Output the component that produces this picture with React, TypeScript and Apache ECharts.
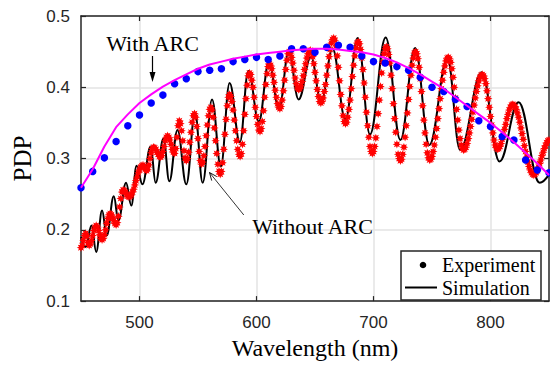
import React, { useEffect, useRef } from "react";
import * as echarts from "echarts";

// ---- axis ticks ----
const xTicks = [500, 600, 700, 800];
const yMin = 0.1;
const yMax = 0.5;
const yStep = 0.1;

// ---- With ARC (10 nm sampling) ----
const arcWavelengths = [
  450, 460, 470, 480, 490, 500, 510, 520, 530, 540, 550, 560, 570, 580, 590, 600, 610, 620, 630, 640, 650,
  660, 670, 680, 690, 700, 710, 720, 730, 740, 750, 760, 770, 780, 790, 800, 810, 820, 830, 840, 850,
];
const withArcExperiment = [
  0.259, 0.282, 0.301, 0.324, 0.346, 0.361, 0.378, 0.389, 0.405, 0.412, 0.422, 0.424, 0.426, 0.436, 0.439,
  0.442, 0.439, 0.444, 0.454, 0.454, 0.449, 0.456, 0.459, 0.456, 0.444, 0.436, 0.434, 0.429, 0.424, 0.414,
  0.4, 0.394, 0.383, 0.373, 0.353, 0.345, 0.331, 0.326, 0.298, 0.284, 0.28,
];
const withArcSimulation = [
  0.259, 0.285, 0.317, 0.344, 0.362, 0.378, 0.39, 0.401, 0.41, 0.418, 0.426, 0.432, 0.436, 0.44, 0.443,
  0.446, 0.448, 0.45, 0.452, 0.453, 0.454, 0.454, 0.453, 0.451, 0.449, 0.446, 0.441, 0.435, 0.427, 0.418,
  0.408, 0.398, 0.386, 0.374, 0.362, 0.35, 0.337, 0.323, 0.308, 0.293, 0.277,
];

// ---- Without ARC experiment (1 nm sampling from 450 nm) ----
const noArcStart = 450;
const noArcStep = 1;
const withoutArcExperiment = [
  0.175, 0.178, 0.185, 0.192, 0.195, 0.191, 0.182, 0.178, 0.18, 0.185,
  0.192, 0.199, 0.204, 0.206, 0.204, 0.199, 0.193, 0.188, 0.186, 0.188,
  0.193, 0.2, 0.209, 0.216, 0.221, 0.223, 0.221, 0.217, 0.213, 0.209,
  0.207, 0.21, 0.219, 0.232, 0.244, 0.253, 0.256, 0.255, 0.253, 0.249,
  0.247, 0.246, 0.247, 0.249, 0.253, 0.257, 0.263, 0.269, 0.274, 0.28,
  0.284, 0.288, 0.29, 0.291, 0.289, 0.285, 0.283, 0.285, 0.291, 0.3,
  0.308, 0.314, 0.316, 0.315, 0.313, 0.309, 0.306, 0.303, 0.302, 0.304,
  0.31, 0.317, 0.325, 0.33, 0.332, 0.33, 0.326, 0.32, 0.313, 0.309,
  0.307, 0.314, 0.33, 0.346, 0.353, 0.349, 0.339, 0.325, 0.311, 0.301,
  0.297, 0.3, 0.309, 0.323, 0.337, 0.351, 0.36, 0.363, 0.358, 0.345,
  0.328, 0.31, 0.297, 0.292, 0.295, 0.304, 0.317, 0.332, 0.347, 0.36,
  0.369, 0.372, 0.368, 0.358, 0.343, 0.325, 0.307, 0.292, 0.282, 0.278,
  0.282, 0.294, 0.313, 0.334, 0.355, 0.374, 0.386, 0.39, 0.387, 0.38,
  0.368, 0.354, 0.339, 0.325, 0.313, 0.306, 0.303, 0.307, 0.32, 0.339,
  0.362, 0.384, 0.403, 0.416, 0.42, 0.418, 0.41, 0.4, 0.386, 0.372,
  0.359, 0.348, 0.34, 0.338, 0.342, 0.352, 0.367, 0.386, 0.404, 0.419,
  0.429, 0.433, 0.431, 0.426, 0.417, 0.407, 0.396, 0.386, 0.377, 0.372,
  0.37, 0.373, 0.382, 0.395, 0.41, 0.425, 0.438, 0.447, 0.45, 0.448,
  0.442, 0.434, 0.424, 0.413, 0.405, 0.399, 0.397, 0.398, 0.402, 0.408,
  0.416, 0.425, 0.433, 0.441, 0.447, 0.451, 0.452, 0.45, 0.443, 0.433,
  0.421, 0.409, 0.397, 0.387, 0.38, 0.378, 0.38, 0.385, 0.394, 0.404,
  0.417, 0.43, 0.443, 0.453, 0.462, 0.467, 0.469, 0.466, 0.458, 0.444,
  0.428, 0.409, 0.39, 0.374, 0.36, 0.352, 0.349, 0.351, 0.358, 0.369,
  0.382, 0.398, 0.415, 0.431, 0.444, 0.455, 0.462, 0.464, 0.461, 0.453,
  0.441, 0.425, 0.406, 0.386, 0.365, 0.346, 0.33, 0.317, 0.31, 0.307,
  0.31, 0.317, 0.329, 0.345, 0.363, 0.382, 0.401, 0.42, 0.435, 0.447,
  0.454, 0.457, 0.454, 0.446, 0.434, 0.417, 0.398, 0.377, 0.356, 0.337,
  0.32, 0.306, 0.3, 0.297, 0.299, 0.306, 0.316, 0.33, 0.346, 0.364,
  0.383, 0.401, 0.417, 0.431, 0.441, 0.448, 0.45, 0.447, 0.44, 0.428,
  0.412, 0.394, 0.374, 0.354, 0.336, 0.32, 0.308, 0.301, 0.298, 0.299,
  0.303, 0.31, 0.319, 0.33, 0.342, 0.356, 0.37, 0.384, 0.398, 0.41,
  0.421, 0.43, 0.437, 0.441, 0.442, 0.44, 0.435, 0.426, 0.414, 0.4,
  0.385, 0.369, 0.354, 0.34, 0.328, 0.319, 0.314, 0.312, 0.313, 0.316,
  0.321, 0.328, 0.336, 0.345, 0.355, 0.365, 0.375, 0.385, 0.394, 0.402,
  0.409, 0.414, 0.417, 0.418, 0.416, 0.412, 0.405, 0.395, 0.384, 0.372,
  0.359, 0.347, 0.336, 0.326, 0.319, 0.315, 0.313, 0.314, 0.317, 0.321,
  0.327, 0.333, 0.341, 0.348, 0.356, 0.362, 0.368, 0.372, 0.375, 0.376,
  0.375, 0.373, 0.369, 0.364, 0.358, 0.351, 0.343, 0.335, 0.327, 0.318,
  0.31, 0.302, 0.295, 0.289, 0.284, 0.28, 0.278, 0.277, 0.278, 0.28,
  0.283, 0.288, 0.293, 0.298, 0.304, 0.309, 0.314, 0.318, 0.322, 0.325,
  0.326,
];

// ---- Without ARC simulation (turning points of the fringes) ----
const noArcSimWavelengths = [
  450, 454, 459, 463, 468, 472, 478, 482, 488.5, 493, 497.5, 502.5, 509.5, 513.8, 520.5, 525.5, 532.5, 540,
  547.5, 554, 562, 569.5, 577, 585.8, 593, 602, 610.5, 619.3, 627.5, 636, 646.5, 655.3, 665, 676, 686.5, 697,
  710.4, 723, 735.5, 747.7, 763.2, 774, 792.5, 807.7, 824, 842, 850,
];
const withoutArcSimulation = [
  0.19, 0.176, 0.206, 0.169, 0.227, 0.192, 0.247, 0.213, 0.266, 0.234, 0.29, 0.264, 0.317, 0.266, 0.328,
  0.268, 0.34, 0.264, 0.364, 0.266, 0.383, 0.289, 0.406, 0.323, 0.423, 0.352, 0.435, 0.37, 0.45, 0.383,
  0.443, 0.38, 0.454, 0.355, 0.469, 0.334, 0.47, 0.326, 0.455, 0.319, 0.44, 0.312, 0.421, 0.296, 0.379,
  0.266, 0.2775,
];

const ASTERISK =
  "path://M5,0L2.4,1L3.54,3.54L1,2.4L0,5L-1,2.4L-3.54,3.54L-2.4,1L-5,0L-2.4,-1L-3.54,-3.54L-1,-2.4L0,-5L1,-2.4L3.54,-3.54L2.4,-1Z";

const AXIS_COLOR = "#262626";
const SERIF_FAMILY = "Liberation Serif";
const SANS = "Liberation Sans";

export default function App() {
  const ref = useRef<HTMLDivElement>(null);

  useEffect(() => {
    if (!ref.current) return;
    const chart = echarts.init(ref.current, undefined, { renderer: "svg" });

    const redData = withoutArcExperiment.map((v, i) => [noArcStart + i * noArcStep, v]);
    const blackData = noArcSimWavelengths.map((w, i) => [w, withoutArcSimulation[i]]);
    const blueData = arcWavelengths.map((w, i) => [w, withArcExperiment[i]]);
    const magentaData = arcWavelengths.map((w, i) => [w, withArcSimulation[i]]);

    const frameAxisX = {
      type: "value" as const,
      min: 450,
      max: 850,
      axisLine: { show: true, onZero: false, lineStyle: { color: AXIS_COLOR, width: 1.5 } },
      axisTick: { show: true, inside: true, length: 5, customValues: xTicks, lineStyle: { color: AXIS_COLOR, width: 1.2 } },
    };
    const frameAxisY = {
      type: "value" as const,
      min: yMin,
      max: yMax,
      interval: yStep,
      axisLine: { show: true, onZero: false, lineStyle: { color: AXIS_COLOR, width: 1.5 } },
      axisTick: { show: true, inside: true, length: 5, lineStyle: { color: AXIS_COLOR, width: 1.2 } },
    };

    const serifText = (text: string, size: number, align: string) => ({
      text,
      fontSize: size,
      fontFamily: SERIF_FAMILY,
      fill: "#000",
      align,
      verticalAlign: "middle",
    });

    chart.setOption({
      animation: false,
      backgroundColor: "#ffffff",
      textStyle: { fontFamily: SERIF_FAMILY },
      grid: { left: 81, right: 1, top: 16, bottom: 60, containLabel: false },
      xAxis: [
        {
          ...frameAxisX,
          position: "bottom",
          axisLabel: {
            customValues: xTicks,
            fontSize: 17,
            fontFamily: SANS,
            color: AXIS_COLOR,
            margin: 13,
          },
          splitLine: { show: true, lineStyle: { color: "#e3e3e3", width: 1.5 } },
          name: "Wavelength (nm)",
          nameLocation: "middle",
          nameGap: 34,
          nameTextStyle: { fontSize: 24, fontFamily: SERIF_FAMILY, color: "#000" },
        },
        {
          ...frameAxisX,
          position: "top",
          axisLabel: { show: false },
          splitLine: { show: false },
        },
      ],
      yAxis: [
        {
          ...frameAxisY,
          position: "left",
          axisLabel: {
            fontSize: 17,
            fontFamily: SANS,
            color: AXIS_COLOR,
            margin: 11,
            formatter: (v: number) => v.toFixed(1),
          },
          splitLine: { show: true, lineStyle: { color: "#e3e3e3", width: 1.5 } },
          name: "PDP",
          nameLocation: "middle",
          nameGap: 43,
          nameRotate: 90,
          nameTextStyle: { fontSize: 25, fontFamily: SERIF_FAMILY, color: "#000" },
        },
        {
          ...frameAxisY,
          position: "right",
          axisLabel: { show: false },
          splitLine: { show: false },
        },
      ],
      series: [
        {
          name: "Without ARC simulation",
          type: "line",
          data: blackData,
          smooth: 0.4,
          smoothMonotone: "x",
          showSymbol: false,
          lineStyle: { color: "#000000", width: 2 },
          z: 2,
          silent: true,
        },
        {
          name: "Without ARC experiment",
          type: "scatter",
          data: redData,
          symbol: ASTERISK,
          symbolSize: 8.5,
          itemStyle: { color: "#ff0000", opacity: 1 },
          z: 3,
          silent: true,
        },
        {
          name: "With ARC experiment",
          type: "scatter",
          data: blueData,
          symbol: "circle",
          symbolSize: 7.5,
          itemStyle: { color: "#0000ff", opacity: 1 },
          z: 4,
          silent: true,
        },
        {
          name: "With ARC simulation",
          type: "line",
          data: magentaData,
          showSymbol: false,
          lineStyle: { color: "#ff00ff", width: 2 },
          z: 5,
          silent: true,
        },
      ],
      graphic: [
        // With ARC annotation
        { type: "text", x: 152.5, y: 43, z: 50, style: serifText("With ARC", 22, "center") },
        {
          type: "line",
          z: 50,
          shape: { x1: 152.5, y1: 56, x2: 152.5, y2: 76 },
          style: { stroke: "#000", lineWidth: 1.2 },
        },
        {
          type: "polygon",
          z: 50,
          shape: { points: [[149.5, 72], [155.5, 72], [152.5, 82]] },
          style: { fill: "#000" },
        },
        // Without ARC annotation
        { type: "text", x: 312.5, y: 226, z: 50, style: serifText("Without ARC", 22, "center") },
        {
          type: "line",
          z: 50,
          shape: { x1: 243.8, y1: 215, x2: 209.5, y2: 172.5 },
          style: { stroke: "#000", lineWidth: 0.8 },
        },
        {
          type: "polyline",
          z: 50,
          shape: { points: [[211.7, 180.6], [209.5, 172.5], [216.8, 176.6]] },
          style: { stroke: "#000", lineWidth: 0.9, fill: null },
        },
        // Legend
        {
          type: "rect",
          z: 60,
          shape: { x: 401, y: 251, width: 140, height: 49 },
          style: { fill: "#ffffff", stroke: AXIS_COLOR, lineWidth: 1.5 },
        },
        { type: "circle", z: 61, shape: { cx: 423, cy: 265, r: 3.3 }, style: { fill: "#000" } },
        {
          type: "line",
          z: 61,
          shape: { x1: 405, y1: 287.5, x2: 437, y2: 287.5 },
          style: { stroke: "#000", lineWidth: 2 },
        },
        { type: "text", z: 61, x: 442, y: 265, style: serifText("Experiment", 20, "left") },
        { type: "text", z: 61, x: 442, y: 287.5, style: serifText("Simulation", 20, "left") },
      ],
    });

    return () => {
      chart.dispose();
    };
  }, []);

  return (
    <div
      ref={ref}
      style={{ position: "fixed", left: 0, top: 0, width: 550, height: 365, background: "#fff" }}
    />
  );
}
